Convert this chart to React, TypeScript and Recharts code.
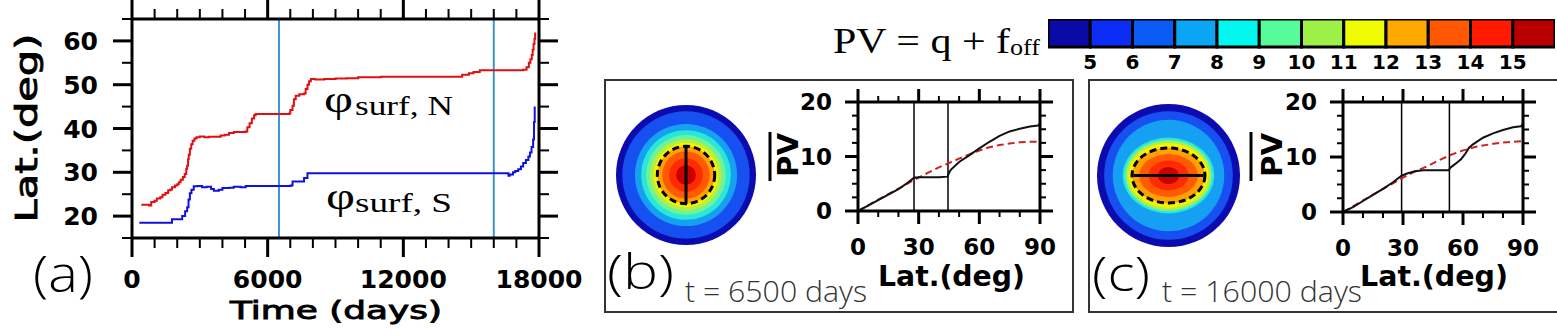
import React from "react";
import {
  Bar,
  BarChart,
  ComposedChart,
  Line,
  ReferenceLine,
  Scatter,
  ScatterChart,
  XAxis,
  YAxis,
} from "recharts";

// ---- panel (a): surface-edge latitude vs time  [day, lat]
const northSurf: [number, number][] = [
  [414, 22.6], [750, 22.4], [850, 23.2], [1000, 23.5], [1100, 24.0], [1250, 24.3],
  [1350, 24.9], [1480, 25.3], [1600, 25.9], [1700, 26.1], [1770, 26.6], [1900, 27.0],
  [2000, 27.3], [2070, 27.7], [2150, 28.3], [2250, 28.9], [2330, 29.6], [2400, 30.8],
  [2440, 31.5], [2480, 33.0], [2510, 34.0], [2560, 35.4], [2620, 36.4], [2680, 37.2],
  [2760, 37.7], [2850, 38.0], [3000, 38.2], [3200, 38.0], [3400, 38.1], [3700, 38.1],
  [3920, 38.4], [4100, 38.6], [4290, 39.0], [4500, 39.2], [5030, 39.3], [5100, 40.3],
  [5200, 41.2], [5300, 42.3], [5400, 43.0], [5470, 43.3], [6950, 43.4], [7000, 44.2],
  [7100, 45.2], [7160, 46.7], [7240, 47.5], [7400, 47.8], [7610, 48.0], [7680, 49.0],
  [7760, 50.0], [7830, 50.8], [7910, 51.3], [8100, 51.2], [8500, 51.3], [9000, 51.4],
  [9500, 51.5], [10000, 51.7], [11000, 51.8], [12000, 51.8], [13000, 51.8], [14400, 51.8],
  [14600, 52.3], [14900, 52.6], [15100, 52.9], [15380, 53.3], [17300, 53.4], [17450, 54.0],
  [17550, 55.0], [17620, 55.8], [17680, 56.8], [17720, 58.0], [17760, 59.3], [17800, 60.5],
  [17830, 61.9],
];
const southSurf: [number, number][] = [
  [325, 18.5], [1770, 19.3], [2220, 20.0], [2350, 21.1], [2440, 22.0], [2500, 23.8],
  [2560, 25.2], [2630, 26.0], [2730, 26.8], [2900, 26.9], [3100, 26.6], [3300, 26.7],
  [3500, 26.2], [3620, 25.8], [3840, 26.0], [4000, 26.4], [4300, 26.5], [4500, 26.7],
  [4800, 26.6], [5030, 26.9], [7020, 27.0], [7100, 27.9], [7610, 28.7], [7760, 29.8],
  [16560, 29.8], [16650, 29.2], [16710, 29.5], [16850, 30.0], [16950, 30.3], [17080, 30.7],
  [17200, 31.3], [17300, 32.1], [17420, 32.8], [17530, 33.6], [17600, 34.5], [17670, 35.8],
  [17740, 37.5], [17780, 41.5], [17810, 45.0],
];
const snapshotDays = [6500, 16000];
const timeTicks = [0, 1000, 2000, 3000, 4000, 5000, 6000, 7000, 8000, 9000, 10000, 11000, 12000, 13000, 14000, 15000, 16000, 17000, 18000];
const timeMajor = [0, 6000, 12000, 18000];
const latTicks = [15, 20, 25, 30, 35, 40, 45, 50, 55, 60, 65];
const latMajor = [20, 30, 40, 50, 60];

// ---- panels (b), (c): zonal-mean PV profiles  [lat, PV]
const profileB: [number, number][] = [
  [0, 0], [5, 1.0], [10, 2.0], [15, 3.0], [20, 4.0], [25, 5.3], [27.7, 6.1], [30, 6.2],
  [35, 6.2], [40, 6.2], [44.3, 6.3], [45, 7.0], [46, 7.6], [50, 9.0], [55, 10.2], [60, 11.5],
  [65, 12.7], [70, 13.8], [75, 14.6], [80, 15.1], [85, 15.5], [89, 15.7], [90, 16.0],
];
const referenceB: [number, number][] = [
  [0, 0], [10, 2.1], [20, 4.1], [27.7, 5.7], [35, 7.1], [40, 8.0], [45, 8.8], [50, 9.6],
  [55, 10.4], [60, 11.1], [65, 11.7], [70, 12.1], [75, 12.4], [80, 12.6], [85, 12.7], [90, 12.7],
];
const edgesB = [27.7, 44.5];
const profileC: [number, number][] = [
  [0, 0], [5, 0.9], [10, 2.0], [15, 3.1], [20, 4.2], [25, 5.4], [29.3, 6.6], [32, 7.0],
  [36, 7.4], [40, 7.6], [53, 7.6], [53.5, 8.0], [56, 8.7], [59, 9.6], [61, 10.5], [63, 11.7],
  [65, 12.3], [70, 13.5], [75, 14.3], [80, 14.9], [85, 15.4], [89, 15.6], [90, 16.0],
];
const referenceC: [number, number][] = [
  [0, 0], [10, 2.1], [20, 4.2], [29.3, 6.1], [35, 7.2], [42, 8.3], [48, 9.4], [54, 10.4],
  [60, 11.2], [67, 11.9], [75, 12.4], [82, 12.7], [90, 12.9],
];
const edgesC = [29.3, 53.2];
const profLatTicks = [0, 10, 20, 30, 40, 50, 60, 70, 80, 90];
const profLatMajor = [0, 30, 60, 90];
const pvTicks = [0, 2.5, 5, 7.5, 10, 12.5, 15, 17.5, 20];
const pvMajor = [0, 10, 20];

// ---- colour bar
const cbarColors = ["#0a0aa6", "#0a2cf5", "#0a5af5", "#0aa5f5", "#00f8ee", "#55fc99", "#9cf046", "#f0fc00", "#ffa800", "#ff5800", "#ff1a00", "#b80000"];
const cbarLabels = ["5", "6", "7", "8", "9", "10", "11", "12", "13", "14", "15"];

// ---- discs (radii as fraction of disc radius, outer ring first)
const discColors = ["#0b0bb0", "#1650f0", "#16a0f2", "#2ae8d8", "#70f29a", "#b6f03c", "#f4f400", "#ffa200", "#ff5a00", "#ff2a00", "#c80000"];
const discBRx = [1, 0.91, 0.73, 0.64, 0.57, 0.51, 0.46, 0.41, 0.34, 0.24, 0.14];
const discBRy = [1, 0.91, 0.73, 0.64, 0.57, 0.51, 0.46, 0.41, 0.34, 0.24, 0.14];
const discCRx = [1, 0.9, 0.78, 0.64, 0.61, 0.59, 0.56, 0.51, 0.41, 0.28, 0.15];
const discCRy = [1, 0.9, 0.78, 0.53, 0.5, 0.48, 0.45, 0.39, 0.3, 0.21, 0.12];
const contourB = { rx: 0.41, ry: 0.41 };
const contourC = { rx: 0.51, ry: 0.385 };
const barB = [{ rx: 0, ry: -0.41 }, { rx: 0, ry: 0.41 }];
const barC = [{ rx: -0.49, ry: 0 }, { rx: 0.49, ry: 0 }];

const NCL = "'DejaVu Sans', Verdana, sans-serif";
const SERIF = "'Liberation Serif', 'DejaVu Serif', serif";
const LIGHT = "'Open Sans', 'DejaVu Sans', sans-serif";

const frame = { stroke: "#000", strokeWidth: 3 };
const toPts = (rows: [number, number][], kx: string, ky: string) =>
  rows.map(([a, b]) => ({ [kx]: a, [ky]: b }));

const bottomLabel = (font: number, dy: number) => (p: any) => (
  <text x={p.x} y={Number(p.y) + dy} textAnchor="middle" fontFamily={NCL} fontWeight={700}
    fontSize={font} fill="#000">{p.payload.value}</text>
);
const leftLabel = (font: number, dx: number) => (p: any) => (
  <text x={Number(p.x) - dx} y={Number(p.y) + font * 0.36} textAnchor="end" fontFamily={NCL}
    fontWeight={700} fontSize={font} fill="#000">{p.payload.value}</text>
);

type FrameOpts = {
  xKey: string; yKey: string;
  xDomain: [number, number]; xTicks: number[]; xMajor: number[];
  yDomain: [number, number]; yTicks: number[]; yMajor: number[];
  major: number; minor: number; font: number; xDy: number; yDx: number;
};

// Axes: 1px thick (recharts skips 0-sized axes), so chart margins are 1px short.
function frameAxes(o: FrameOpts) {
  const common = { interval: 0 as const, tickMargin: 0, tickSize: 0, type: "number" as const, tickLine: false };
  return [
    <XAxis key="b" dataKey={o.xKey} domain={o.xDomain} ticks={o.xMajor} height={1}
      axisLine={frame} tick={bottomLabel(o.font, o.major + o.xDy)} {...common} />,
    <XAxis key="t" xAxisId="t" orientation="top" domain={o.xDomain} ticks={o.xMajor} height={1}
      axisLine={frame} tick={false} {...common} />,
    <YAxis key="l" dataKey={o.yKey} domain={o.yDomain} ticks={o.yMajor} width={1}
      axisLine={frame} tick={leftLabel(o.font, o.major + o.yDx)} {...common} />,
    <YAxis key="r" yAxisId="r" orientation="right" domain={o.yDomain} ticks={o.yMajor} width={1}
      axisLine={frame} tick={false} {...common} />,
  ];
}

// Outward tick marks on all four frame edges, placed through the chart scales.
function frameTicks(o: FrameOpts) {
  const mark = (dx: number, dy: number) => (p: any) => {
    const len = p.payload.major ? o.major : o.minor;
    return (
      <line x1={p.cx} y1={p.cy} x2={p.cx + dx * len} y2={p.cy + dy * len} stroke="#000"
        strokeWidth={p.payload.major ? 3 : 2} />
    );
  };
  const alongX = (y: number) => o.xTicks.map((t) => ({ [o.xKey]: t, [o.yKey]: y, major: o.xMajor.includes(t) }));
  const alongY = (x: number) => o.yTicks.map((t) => ({ [o.xKey]: x, [o.yKey]: t, major: o.yMajor.includes(t) }));
  const sides: [string, any[], number, number][] = [
    ["tb", alongX(o.yDomain[0]), 0, 1],
    ["tt", alongX(o.yDomain[1]), 0, -1],
    ["tl", alongY(o.xDomain[0]), -1, 0],
    ["tr", alongY(o.xDomain[1]), 1, 0],
  ];
  return sides.map(([k, data, dx, dy]) => (
    <Scatter key={k} data={data} dataKey={o.yKey} shape={mark(dx, dy)} isAnimationActive={false} />
  ));
}

function PanelA() {
  const o: FrameOpts = {
    xKey: "day", yKey: "lat", xDomain: [0, 18000], xTicks: timeTicks, xMajor: timeMajor,
    yDomain: [15, 65], yTicks: latTicks, yMajor: latMajor,
    major: 19, minor: 10, font: 25, xDy: 31, yDx: 15,
  };
  return (
    <div style={{ position: "absolute", left: 0, top: 0 }}>
      <ComposedChart width={600} height={336} margin={{ top: 18, left: 131, right: 60, bottom: 97 }}>
        {frameAxes(o)}
        {snapshotDays.map((d) => (
          <ReferenceLine key={d} x={d} stroke="#3a94d2" strokeWidth={2} />
        ))}
        <Line data={toPts(northSurf, "day", "lat")} dataKey="lat" type="stepAfter" stroke="#dd1111"
          strokeWidth={2} dot={false} isAnimationActive={false} />
        <Line data={toPts(southSurf, "day", "lat")} dataKey="lat" type="stepAfter" stroke="#1111dd"
          strokeWidth={2} dot={false} isAnimationActive={false} />
        {frameTicks(o)}
      </ComposedChart>
    </div>
  );
}

function ProfilePanel({ left, top, right, bottom, profile, reference, edges }: {
  left: number; top: number; right: number; bottom: number;
  profile: [number, number][]; reference: [number, number][]; edges: number[];
}) {
  const L = left - 70;
  const T = 80;
  const W = 290;
  const H = 200;
  const o: FrameOpts = {
    xKey: "lat", yKey: "pv", xDomain: [0, 90], xTicks: profLatTicks, xMajor: profLatMajor,
    yDomain: [0, 20], yTicks: pvTicks, yMajor: pvMajor,
    major: 13, minor: 6, font: 23, xDy: 31, yDx: 13,
  };
  return (
    <div style={{ position: "absolute", left: L, top: T }}>
      <ComposedChart width={W} height={H}
        margin={{ top: top - T - 1, left: left - L - 1, right: W - (right - L) - 1, bottom: H - (bottom - T) - 1 }}>
        {frameAxes(o)}
        {edges.map((e) => (
          <ReferenceLine key={e} x={e} stroke="#000" strokeWidth={1.5} />
        ))}
        <Line data={toPts(reference, "lat", "pv")} dataKey="pv" type="linear" stroke="#cc2222"
          strokeWidth={2} strokeDasharray="7 4" dot={false} isAnimationActive={false} />
        <Line data={toPts(profile, "lat", "pv")} dataKey="pv" type="linear" stroke="#111"
          strokeWidth={2} dot={false} isAnimationActive={false} />
        {frameTicks(o)}
      </ComposedChart>
    </div>
  );
}

function Disc({ left, top, size, rx, ry, contour, bar }: {
  left: number; top: number; size: number; rx: number[]; ry: number[];
  contour: { rx: number; ry: number }; bar: { rx: number; ry: number }[];
}) {
  const C = size / 2;
  const rings = rx.map((r, i) => ({ rx: r, ry: ry[i], color: discColors[i] }));
  const RingShape = (p: any) => (
    <ellipse cx={C} cy={C} rx={Math.abs(p.cx - C)} ry={Math.abs(C - p.cy)} fill={p.payload.color} />
  );
  const ContourShape = (p: any) => (
    <ellipse cx={C} cy={C} rx={Math.abs(p.cx - C)} ry={Math.abs(C - p.cy)} fill="none"
      stroke="#000" strokeWidth={3} strokeDasharray="7 4" />
  );
  return (
    <div style={{ position: "absolute", left, top }}>
      <ScatterChart width={size} height={size} margin={{ top: 0, right: 0, bottom: 0, left: 0 }}>
        <XAxis type="number" dataKey="rx" domain={[-1, 1]} hide height={0} />
        <YAxis type="number" dataKey="ry" domain={[-1, 1]} hide width={0} />
        <Scatter data={rings} shape={RingShape} isAnimationActive={false} />
        <Scatter data={[contour]} shape={ContourShape} isAnimationActive={false} />
        <Scatter data={bar} line={{ stroke: "#000", strokeWidth: 3 }} stroke="#000" strokeWidth={3}
          shape={() => <g />} isAnimationActive={false} />
      </ScatterChart>
    </div>
  );
}

function ColorBar() {
  const row: Record<string, number | string> = { name: "PV" };
  cbarColors.forEach((_, i) => (row[`c${i}`] = 1));
  const tickPos = cbarLabels.map((_, i) => i + 1);
  const CbarTick = (p: any) => (
    <text x={p.x} y={Number(p.y) + 22} textAnchor="middle" fontFamily={NCL} fontWeight={700} fontSize={20}>
      {cbarLabels[p.payload.value - 1]}
    </text>
  );
  return (
    <div style={{ position: "absolute", left: 1048, top: 19 }}>
      <BarChart layout="vertical" width={507} height={60} data={[row]} barCategoryGap={0}
        margin={{ top: 0, right: 0, bottom: 31, left: 0 }}>
        <XAxis type="number" domain={[0, 12]} ticks={tickPos} interval={0} height={1}
          tickSize={0} tickMargin={0} axisLine={false} tickLine={false} tick={CbarTick} />
        <YAxis type="category" dataKey="name" hide width={0} />
        {cbarColors.map((c, i) => (
          <Bar key={c} dataKey={`c${i}`} stackId="s" fill={c} stroke="#000" strokeWidth={3}
            isAnimationActive={false} />
        ))}
      </BarChart>
    </div>
  );
}

function Overlay() {
  const bold = { fontFamily: NCL, fontWeight: 700, fill: "#000" } as const;
  const medium = { fontFamily: NCL, fontWeight: 400, fill: "#000", stroke: "#000", strokeWidth: 0.9 } as const;
  const fit = { lengthAdjust: "spacingAndGlyphs" } as const;
  return (
    <svg width={1557} height={336} style={{ position: "absolute", left: 0, top: 0, pointerEvents: "none" }}>
      <rect x={605} y={80} width={468} height={232} fill="none" stroke="#333" strokeWidth={2} />
      <rect x={1089} y={80} width={475} height={232} fill="none" stroke="#333" strokeWidth={2} />

      <text x={37} y={128} transform="rotate(-90 37 128)" textAnchor="middle" fontSize={31}
        textLength={189} {...fit} {...medium}>Lat.(deg)</text>
      <text x={230} y={319} fontSize={25} textLength={212} {...fit} {...medium}>Time (days)</text>
      <text x={33} y={292} fontSize={50} fontFamily={LIGHT} fontWeight={300} textLength={60} {...fit}>(a)</text>

      <text x={324} y={112} fontSize={38} fontFamily={SERIF} textLength={29} {...fit}>φ</text>
      <text x={355} y={115} fontSize={27} fontFamily={SERIF} textLength={98} {...fit}>surf, N</text>
      <text x={326} y={209} fontSize={38} fontFamily={SERIF} textLength={29} {...fit}>φ</text>
      <text x={355} y={212} fontSize={27} fontFamily={SERIF} textLength={97} {...fit}>surf, S</text>

      <text x={833} y={53} fontSize={35} fontFamily={SERIF} textLength={177} {...fit}>PV = q + f</text>
      <text x={1010} y={55} fontSize={24} fontFamily={SERIF} textLength={30} {...fit}>off</text>

      <text x={607} y={289} fontSize={48} fontFamily={LIGHT} fontWeight={300} textLength={67} {...fit}>(b)</text>
      <text x={685} y={302} fontSize={30} fontFamily={LIGHT} fontWeight={300} fill="#333" textLength={182} {...fit}>t = 6500 days</text>
      <text x={878} y={286} fontSize={28} textLength={147} {...fit} {...bold}>Lat.(deg)</text>
      <text x={798} y={155} transform="rotate(-90 798 155)" textAnchor="middle" fontSize={29}
        textLength={44} {...fit} {...bold}>PV</text>
      <line x1={770} y1={132} x2={770} y2={181} stroke="#000" strokeWidth={3} />

      <text x={1092} y={291} fontSize={48} fontFamily={LIGHT} fontWeight={300} textLength={58} {...fit}>(c)</text>
      <text x={1162} y={302} fontSize={30} fontFamily={LIGHT} fontWeight={300} fill="#333" textLength={200} {...fit}>t = 16000 days</text>
      <text x={1360} y={286} fontSize={28} textLength={148} {...fit} {...bold}>Lat.(deg)</text>
      <text x={1282} y={155} transform="rotate(-90 1282 155)" textAnchor="middle" fontSize={29}
        textLength={44} {...fit} {...bold}>PV</text>
      <line x1={1251} y1={132} x2={1251} y2={181} stroke="#000" strokeWidth={3} />
    </svg>
  );
}

export default function App() {
  return (
    <div style={{ position: "absolute", left: 0, top: 0, width: 1557, height: 336, background: "#fff", overflow: "hidden", fontFamily: NCL }}>
      <PanelA />
      <Disc left={616} top={105} size={140} rx={discBRx} ry={discBRy} contour={contourB} bar={barB} />
      <Disc left={1097} top={104} size={143} rx={discCRx} ry={discCRy} contour={contourC} bar={barC} />
      <ProfilePanel left={858} top={102} right={1040} bottom={211} profile={profileB} reference={referenceB} edges={edgesB} />
      <ProfilePanel left={1343} top={102} right={1523} bottom={212} profile={profileC} reference={referenceC} edges={edgesC} />
      <ColorBar />
      <Overlay />
    </div>
  );
}
